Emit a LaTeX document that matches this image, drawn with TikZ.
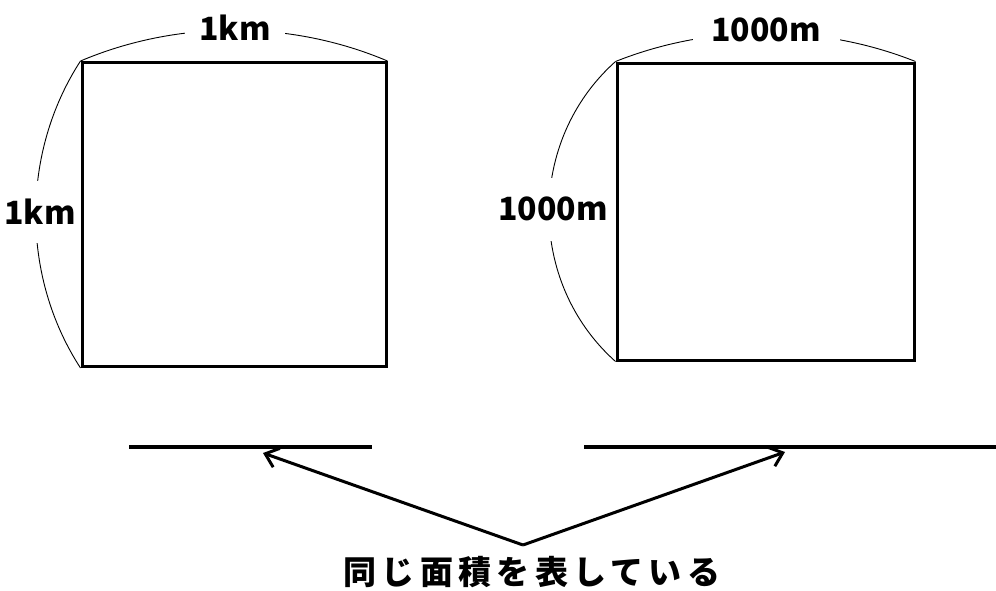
\documentclass[tikz,border=0pt]{standalone}
\usepackage{fontspec}
\setmainfont{Noto Sans CJK JP}
\usetikzlibrary{arrows.meta}
\tikzset{
  sq/.style={draw=black, line width=3pt, minimum width=#1, minimum height=#1, inner sep=0pt},
  arcline/.style={draw=black, line width=0.9pt},
  lbl/.style={fill=white, inner sep=0pt, font=\fontsize{32}{32}\selectfont\bfseries},
  baseline/.style={draw=black, line width=4pt},
  pointer/.style={draw=black, line width=3pt, -{Straight Barb[length=12pt, width=20pt]}},
  caption/.style={inner sep=0pt, font=\fontsize{33}{33}\selectfont\bfseries\addfontfeature{LetterSpace=16}}
}
\begin{document}
\begin{tikzpicture}[x=1pt, y=-1pt]
\useasboundingbox (0,0) rectangle (996,590);
% squares
\node[sq=304pt] (A) at (234,214.5) {};
\node[sq=297pt] (B) at (765.5,211.5) {};
% dimension arcs
\draw[arcline] (A.north west) .. controls +(96.8,-41.1) and +(-96.8,-41.1) .. (A.north east);
\draw[arcline] (A.north west) .. controls +(-59.7,91.9) and +(-59.7,-91.9) .. (A.south west);
\draw[arcline] (B.north west) .. controls +(95.3,-37.9) and +(-95.3,-37.9) .. (B.north east);
\draw[arcline] (B.north west) .. controls +(-88.7,79.2) and +(-88.7,-79.2) .. (B.south west);
% labels
\node[lbl, minimum width=100pt, minimum height=30pt] (ltop) at (235,28) {1km};
\node[lbl, minimum width=64pt, minimum height=62pt] (lside) at (40,212) {1km};
\node[lbl, minimum width=147pt, minimum height=30pt] (rtop) at (766,29.5) {1000m};
\node[lbl, minimum width=112pt, minimum height=63pt] (rside) at (553,209) {1000m};
% base lines
\coordinate (l1) at (129,447);
\coordinate (l2) at (372,447);
\coordinate (r1) at (584,447);
\coordinate (r2) at (996,447);
\draw[baseline] (l1) -- (l2);
\draw[baseline] (r1) -- (r2);
% arrows
\coordinate (apex) at (523,545);
\coordinate (tl) at (263,453);
\coordinate (tr) at (785,452);
\draw[pointer] (apex) -- (tl);
\draw[pointer] (apex) -- (tr);
% caption
\node[caption] (cap) at (532,572.5) {同じ面積を表している};
\end{tikzpicture}
\end{document}
